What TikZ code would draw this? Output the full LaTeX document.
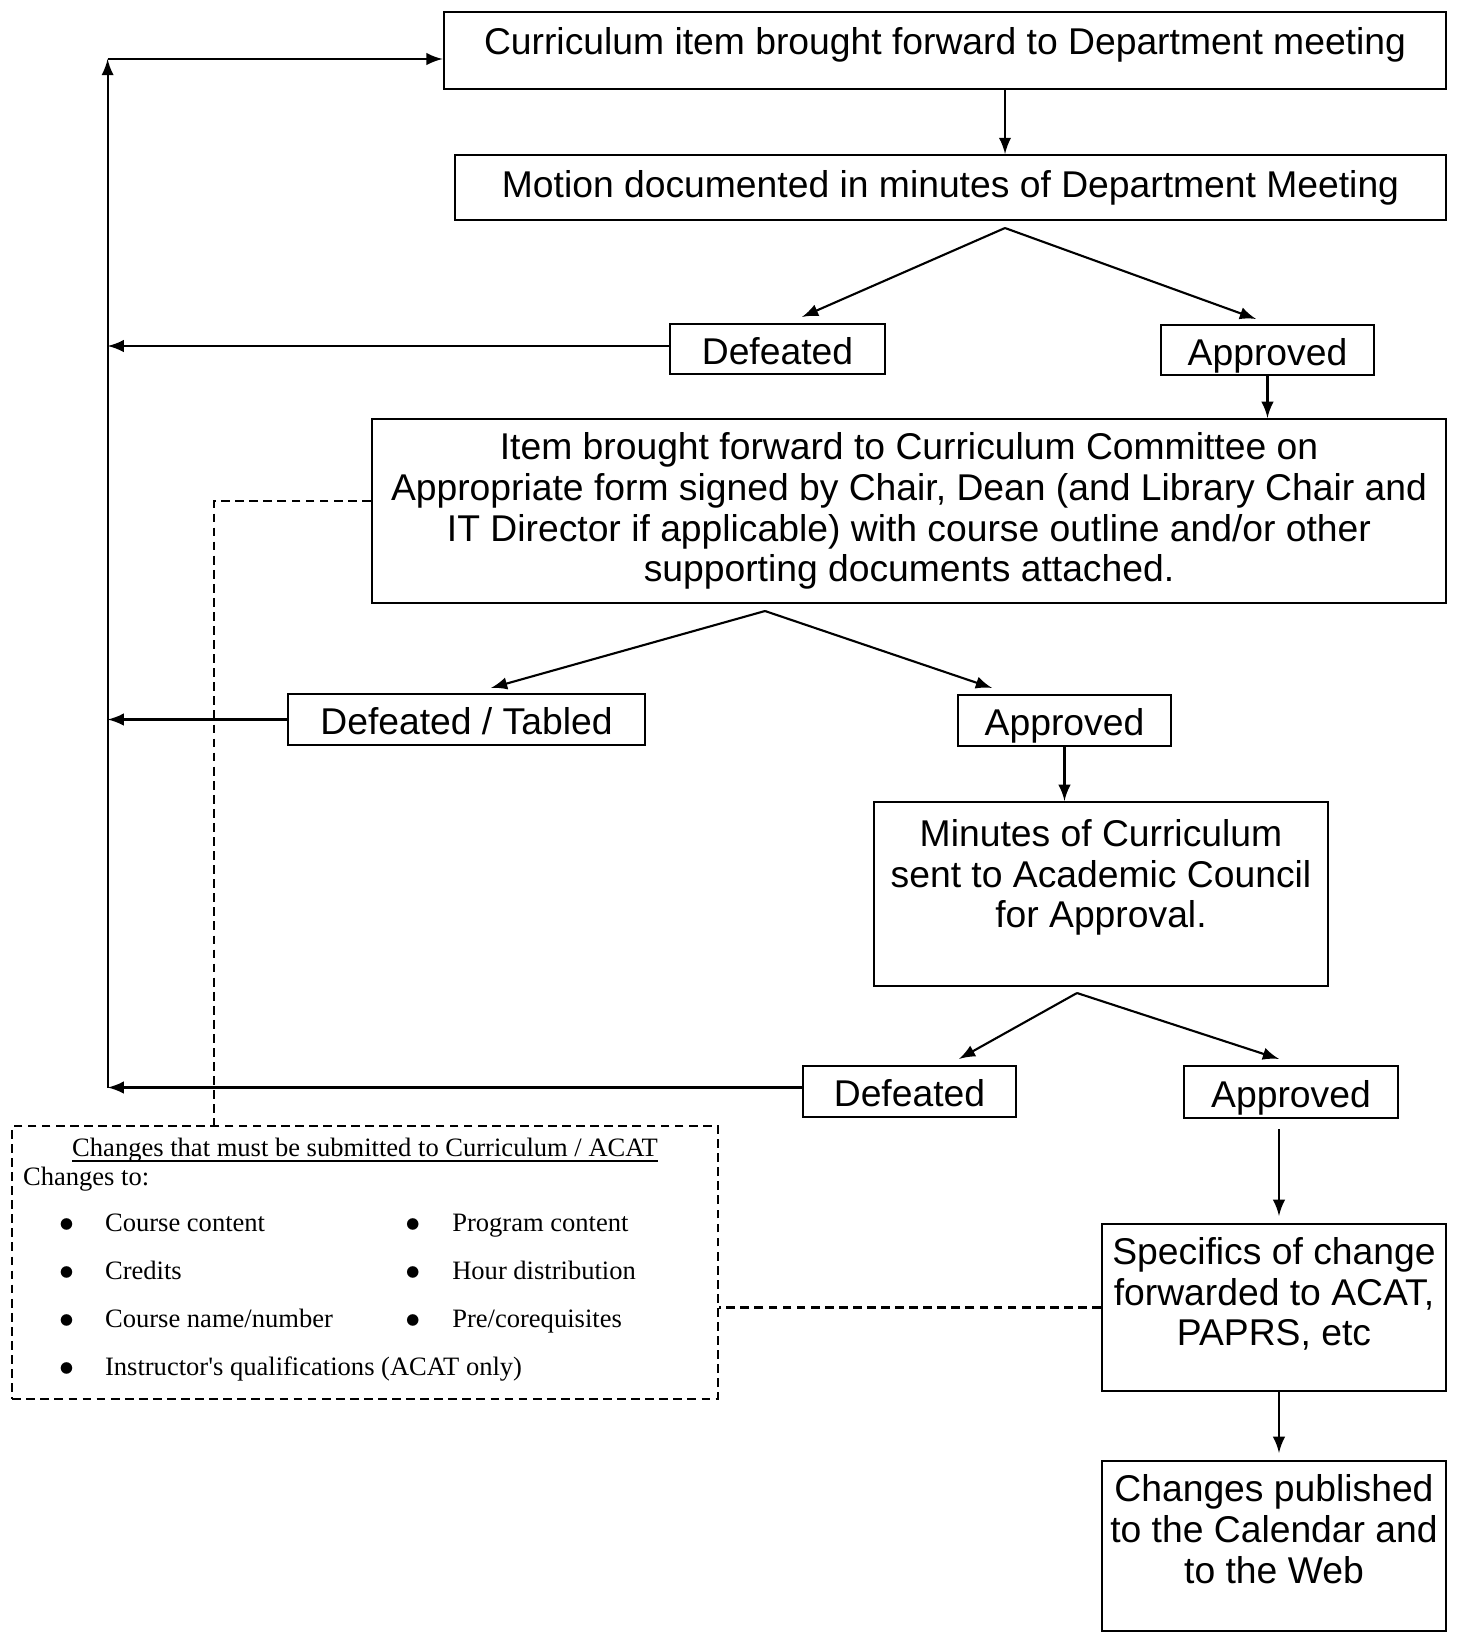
\documentclass[tikz,border=0pt]{standalone}
\usepackage{fontspec}
\setmainfont{Liberation Sans}
\newfontfamily\notefont{Liberation Serif}
\usepackage{tikz}

\begin{document}
\begin{tikzpicture}[>=latex, semithick, x=0.01cm, y=-0.01cm,
    box/.style={draw, rectangle, align=center, inner sep=0pt, font=\fontsize{10.6}{11.6}\selectfont},
    choice/.style={box, text height=4mm, text depth=1mm},
    notebox/.style={draw, rectangle, dash pattern=on 2.5pt off 1.5pt, inner sep=0pt},
    notelink/.style={dash pattern=on 2.5pt off 1.5pt},
    notetext/.style={inner sep=0pt, font=\notefont\fontsize{7.55}{9}\selectfont}]
    \useasboundingbox (0,0) rectangle (1461,1638);

    % Department meeting
    \node[box, minimum width=10.02cm, minimum height=0.77cm, text height=4.25mm, text depth=3.45mm] (top) at (945,50.5) {Curriculum item brought forward to Department meeting};
    \node[box, minimum width=9.91cm, minimum height=0.65cm] (motion) at (950.5,187.5) {Motion documented in minutes of Department Meeting};
    \node[choice, minimum width=2.15cm, minimum height=0.50cm] (defA) at (777.5,349) {Defeated};
    \node[choice, minimum width=2.13cm, minimum height=0.50cm] (appA) at (1267.5,350) {Approved};

    % Curriculum Committee
    \node[box, minimum width=10.74cm, minimum height=1.84cm] (item) at (909,511) {Item brought forward to Curriculum Committee on\\Appropriate form signed by Chair, Dean (and Library Chair and\\IT Director if applicable) with course outline and/or other\\supporting documents attached.};
    \node[choice, minimum width=3.57cm, minimum height=0.51cm] (defB) at (466.5,719.5) {Defeated / Tabled};
    \node[choice, minimum width=2.13cm, minimum height=0.51cm] (appB) at (1064.5,720.5) {Approved};

    % Academic Council
    \node[box, minimum width=4.54cm, minimum height=1.84cm] (minutes) at (1101,894) {Minutes of Curriculum\\sent to Academic Council\\for Approval.\\ \mbox{}};
    \node[choice, minimum width=2.13cm, minimum height=0.51cm] (defC) at (909.5,1091.5) {Defeated};
    \node[choice, minimum width=2.14cm, minimum height=0.52cm] (appC) at (1291,1092) {Approved};

    % After approval
    \node[box, minimum width=3.44cm, minimum height=1.67cm] (specs) at (1274,1307.5) {Specifics of change\\forwarded to ACAT,\\PAPRS, etc\\[-0.9mm] \mbox{}};
    \node[box, minimum width=3.44cm, minimum height=1.70cm] (publish) at (1274,1546) {Changes published\\to the Calendar and\\to the Web\\[-0.7mm] \mbox{}};

    % Note on what has to be submitted
    \node[notebox, minimum width=7.05cm, minimum height=2.73cm] (note) at (365,1262.5) {};
    \node[notetext, anchor=base] (notehead) at (365,1156) {\underline{\raisebox{0pt}[\height][0pt]{Changes that must be submitted to Curriculum / ACAT}}};
    \node[notetext, anchor=base west] (changesto) at (22,1185) {Changes to:};
    \node[notetext, anchor=north west, font=\notefont\fontsize{7.55}{13.66}\selectfont] (list) at (58,1197) {%
        \begin{tabular}{@{}p{4.6mm}@{}p{30mm}@{}p{4.7mm}@{}l@{}}
        $\bullet$ & Course content & $\bullet$ & Program content\\
        $\bullet$ & Credits & $\bullet$ & Hour distribution\\
        $\bullet$ & Course name/number & $\bullet$ & Pre/corequisites\\
        $\bullet$ & \multicolumn{3}{@{}l@{}}{Instructor's qualifications (ACAT only)}
        \end{tabular}};

    % Forks
    \coordinate (fork1) at (1005,228);
    \coordinate (fork2) at (765,611);
    \coordinate (fork3) at (1077,993);
    \coordinate (railtop) at (107.6,59);

    % Main flow
    \draw[->] ([xshift=6mm]top.south) -- ([xshift=6mm]top.south |- motion.north);
    \draw[->] (fork1) -- ([xshift=2.45mm,yshift=0.6mm]defA.north);
    \draw[->] (fork1) -- ([xshift=-1.15mm,yshift=0.5mm]appA.north);
    \draw[->] (appA.south) -- (appA.south |- item.north);
    \draw[->] (fork2) -- ([xshift=2.45mm,yshift=0.5mm]defB.north);
    \draw[->] (fork2) -- ([xshift=-7.25mm,yshift=0.6mm]appB.north);
    \draw[->] (appB.south) -- (appB.south |- minutes.north);
    \draw[->] (fork3) -- ([xshift=4.95mm,yshift=0.6mm]defC.north);
    \draw[->] (fork3) -- ([xshift=-1.2mm,yshift=0.6mm]appC.north);
    \draw[->] ([xshift=-1.2mm,yshift=-1mm]appC.south) -- ([xshift=-1.2mm,yshift=0.7mm]appC.south |- specs.north);
    \draw[->] ([xshift=0.5mm]specs.south) -- ([xshift=0.5mm,yshift=0.7mm]specs.south |- publish.north);

    % Return line back to the department
    \draw[->] ([yshift=0.3mm]defA.west) -- ([yshift=0.3mm]defA.west -| railtop);
    \draw[->] (defB.west) -- (defB.west -| railtop);
    \draw[->] ([yshift=0.4mm]defC.west) -- ([yshift=0.4mm]defC.west -| railtop);
    \draw[->] ([yshift=0.4mm]defC.west -| railtop) -- (railtop);
    \draw[->] (railtop) -- (railtop -| top.west);

    % Links to the note
    \draw[notelink] ([yshift=1mm]item.west) -| ([xshift=20.3mm]note.north west);
    \draw[notelink] (specs.west) -- (specs.west -| note.east);
\end{tikzpicture}
\end{document}
